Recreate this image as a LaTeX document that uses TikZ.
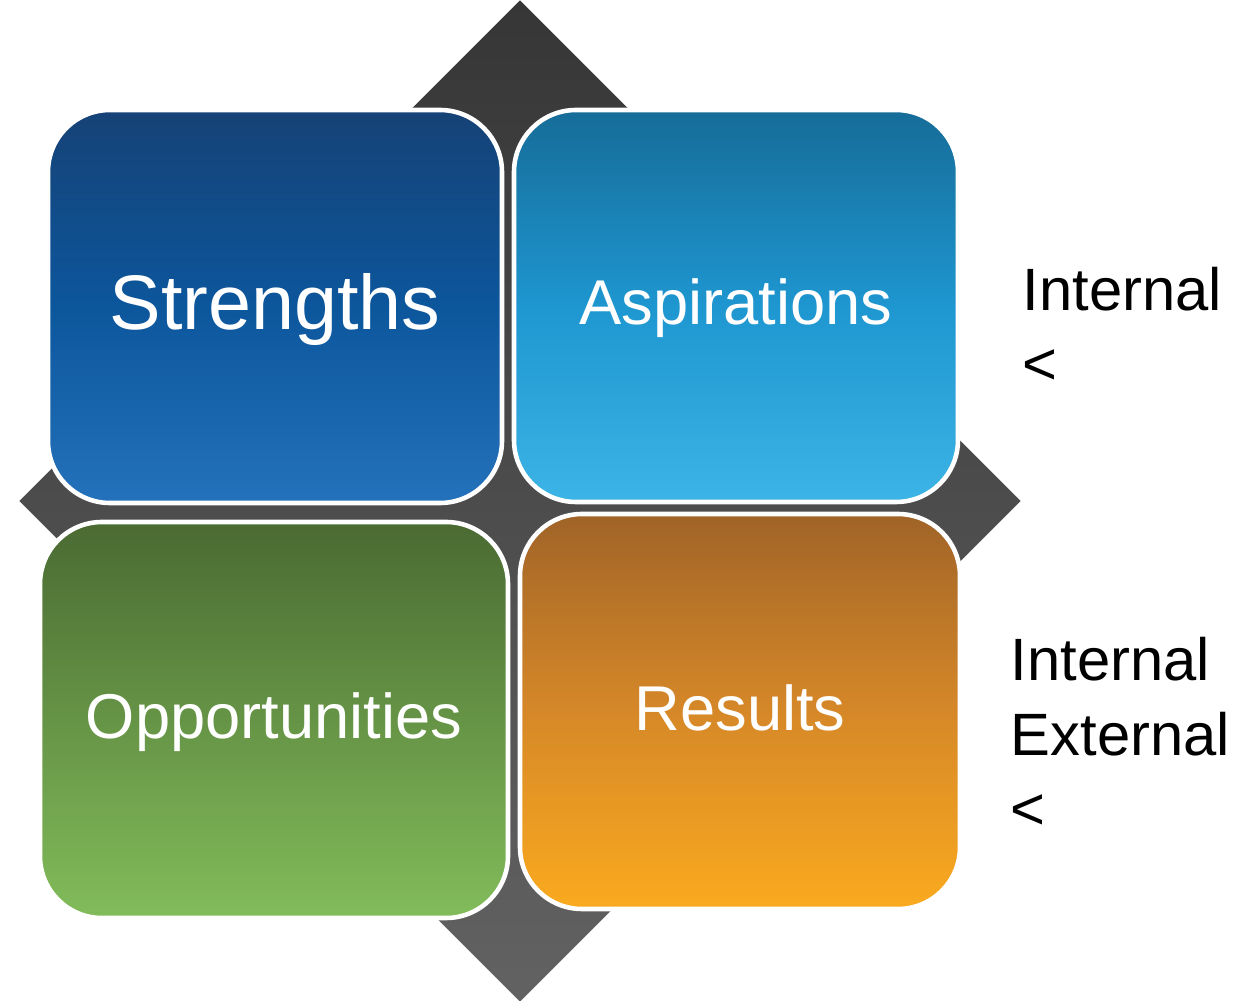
\documentclass[tikz,border=0pt]{standalone}
\usepackage{fontspec}
\setmainfont{Liberation Sans}
\usetikzlibrary{shapes.geometric}
\definecolor{crosstop}{RGB}{54,54,54}
\definecolor{crossbot}{RGB}{98,98,98}
\definecolor{strtop}{RGB}{22,66,118}
\definecolor{strmid}{RGB}{12,86,156}
\definecolor{strbot}{RGB}{36,114,187}
\definecolor{asptop}{RGB}{22,108,152}
\definecolor{aspmid}{RGB}{30,150,208}
\definecolor{aspbot}{RGB}{60,180,230}
\definecolor{opptop}{RGB}{74,106,50}
\definecolor{oppmid}{RGB}{102,148,70}
\definecolor{oppbot}{RGB}{130,188,90}
\definecolor{restop}{RGB}{160,100,40}
\definecolor{resmid}{RGB}{214,136,40}
\definecolor{resbot}{RGB}{250,170,30}
\begin{document}
\begin{tikzpicture}
    [
    quad/.style={rectangle,draw=white,line width=1.3pt,rounded corners=0.62cm,inner sep=0pt,text=white},
    big/.style={font=\fontsize{22}{26}\selectfont,text height=13pt,text depth=0pt},
    small/.style={font=\fontsize{18}{22}\selectfont,text height=10.6pt,text depth=0pt},
    side/.style={align=left,inner sep=0pt,anchor=base west,font=\fontsize{17}{21.3}\selectfont}
    ]
    \useasboundingbox (0,0) rectangle (12.6,10.01);
    % grey cross behind the four boxes
    \node (cross) at (5.2,5.0) [diamond,minimum width=10.02cm,minimum height=10.02cm,inner sep=0pt,top color=crosstop,bottom color=crossbot] {};
    \node (str) at (2.75,6.945) [quad,big,minimum width=4.54cm,minimum height=3.93cm,top color=strtop,bottom color=strbot,middle color=strmid] {Strengths};
    \node (asp) at (7.36,6.95) [quad,small,minimum width=4.44cm,minimum height=3.92cm,top color=asptop,bottom color=aspbot,middle color=aspmid] {Aspirations};
    \node (opp) at (2.74,2.81) [quad,small,minimum width=4.68cm,minimum height=3.96cm,top color=opptop,bottom color=oppbot,middle color=oppmid] {Opportunities};
    \node (res) at (7.40,2.895) [quad,small,minimum width=4.40cm,minimum height=3.95cm,top color=restop,bottom color=resbot,middle color=resmid] {Results};
    % labels on the right
    \node (upper) at (10.22,6.16) [side] {Internal\\<};
    \node (lower) at (10.10,1.71) [side] {Internal\\External\\<};
  \end{tikzpicture}
\end{document}
